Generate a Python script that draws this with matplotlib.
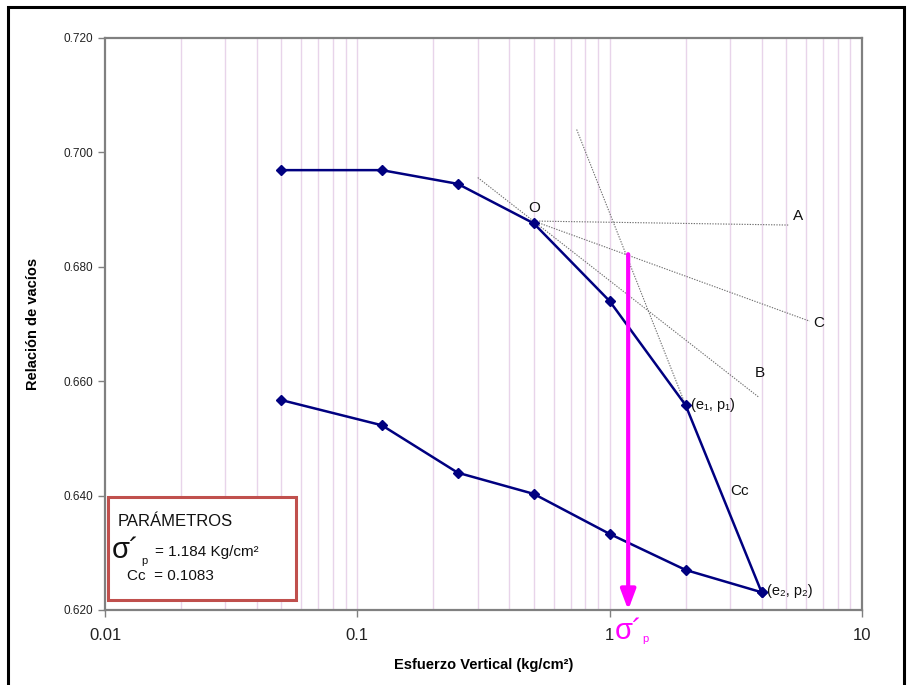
import matplotlib
matplotlib.use("Agg")
import matplotlib.pyplot as plt
from matplotlib.patches import Rectangle
from matplotlib.ticker import FixedLocator, NullLocator, NullFormatter

plt.rcParams['font.family'] = ['Liberation Sans', 'DejaVu Sans']

# Consolidation test: loading and unloading branches
carga_esfuerzo = [0.05, 0.125, 0.25, 0.5, 1.0, 2.0, 4.0]
carga_e = [0.6969, 0.6969, 0.6945, 0.6876, 0.6740, 0.6558, 0.6231]
descarga_esfuerzo = [4.0, 2.0, 1.0, 0.5, 0.25, 0.125, 0.05]
descarga_e = [0.6231, 0.6270, 0.6333, 0.6403, 0.6440, 0.6523, 0.6567]

# Casagrande construction lines (x pairs, y pairs)
linea_OA = ([0.5, 5.1], [0.6880, 0.6873])
linea_OC = ([0.5, 6.2], [0.6880, 0.6705])
linea_OB = ([0.30, 3.9], [0.6956, 0.6572])
linea_tangente = ([0.74, 2.0], [0.7040, 0.6558])

sigma_p = 1.184
e_sigma_p = 0.6822
Cc = 0.1083

y_ticks = [0.620, 0.640, 0.660, 0.680, 0.700, 0.720]
x_ticks = [0.01, 0.1, 1, 10]
x_tick_labels = ['0.01', '0.1', '1', '10']

fig = plt.figure(figsize=(9.07, 6.85), dpi=100)
ax = fig.add_axes([105/907, 75/685, 757/907, 572/685])

ax.set_xscale('log')
ax.set_xlim(0.01, 10)
ax.set_ylim(0.620, 0.720)

# vertical grid at every major and minor decade position
grid_x = [m * 10.0**d for d in (-2, -1, 0) for m in range(1, 10)][1:]
for gx in grid_x:
    ax.axvline(gx, color='#e8d4ea', lw=1.0, zorder=0)

for xs, ys in (linea_OA, linea_OC, linea_OB, linea_tangente):
    ax.plot(xs, ys, color='#707070', lw=0.8, ls=(0, (1.2, 1.2)), zorder=2)

ax.plot(carga_esfuerzo, carga_e, color='#000080', lw=1.8, marker='D',
        markersize=5.5, zorder=4)
ax.plot(descarga_esfuerzo, descarga_e, color='#000080', lw=1.8, marker='D',
        markersize=5.5, zorder=4)

# preconsolidation pressure arrow
ax.annotate('', xy=(sigma_p, 0.620), xytext=(sigma_p, e_sigma_p),
            arrowprops=dict(arrowstyle='-|>,head_width=0.45,head_length=1.2',
                            color='#ff00ff', lw=3, shrinkA=0, shrinkB=0),
            zorder=5)

# construction-point labels
lbl = dict(fontsize=11, color='#111111', zorder=6)
ax.text(linea_OA[0][0], linea_OA[1][0] + 0.0011, 'O', ha='center', va='bottom', **lbl)
ax.text(linea_OA[0][1] * 1.04, linea_OA[1][1] + 0.0003, 'A', ha='left', va='bottom', **lbl)
ax.text(linea_OC[0][1] * 1.03, linea_OC[1][1] - 0.0003, 'C', ha='left', va='center', **lbl)
ax.text(3.75, 0.6615, 'B', ha='left', va='center', **lbl)
ax.text(3.0, 0.6408, 'Cc', ha='left', va='center', **lbl)
ax.text(carga_esfuerzo[5] * 1.05, carga_e[5], '(e\u2081, p\u2081)', ha='left',
        va='center', fontsize=10.5, color='#111111', zorder=6)
ax.text(carga_esfuerzo[6] * 1.05, carga_e[6] + 0.0003, '(e\u2082, p\u2082)', ha='left',
        va='center', fontsize=10.5, color='#111111', zorder=6)

# axes styling
for s in ax.spines.values():
    s.set_color('#808080')
    s.set_linewidth(1.6)
ax.set_yticks(y_ticks)
ax.set_yticklabels([f'{v:.3f}' for v in y_ticks], fontsize=8.5, color='#222222')
ax.xaxis.set_major_locator(FixedLocator(x_ticks))
ax.xaxis.set_minor_locator(NullLocator())
ax.xaxis.set_minor_formatter(NullFormatter())
ax.set_xticklabels(x_tick_labels, fontsize=12, color='#222222')
ax.tick_params(axis='both', direction='out', length=5, width=1, color='#808080')
ax.tick_params(axis='x', pad=8)

ax.set_ylabel('Relación de vacíos', fontsize=10.5, fontweight='bold', labelpad=17)
ax.set_xlabel('Esfuerzo Vertical (kg/cm²)', fontsize=10.5, fontweight='bold', labelpad=11)

# sigma'p label below the axis
ax.text(sigma_p, -0.036, 'σ´', transform=ax.get_xaxis_transform(), ha='center',
        va='center', fontsize=21, color='#ff00ff', clip_on=False)
ax.text(sigma_p * 1.14, -0.050, 'p', transform=ax.get_xaxis_transform(), ha='left',
        va='center', fontsize=8, color='#ff00ff', clip_on=False)

# parameter box
box = Rectangle((108/907, 85/685), 188/907, 103/685, transform=fig.transFigure,
                facecolor='white', edgecolor='#c0504d', lw=2.2, zorder=10)
fig.patches.append(box)
fig.text(118/907, 163/685, 'PARÁMETROS', fontsize=12, color='#111111', va='center', zorder=11)
fig.text(112/907, 135/685, 'σ´', fontsize=21, color='#111111', va='center', zorder=11)
fig.text(141/907, 124/685, 'p', fontsize=8, color='#111111', va='center', zorder=11)
fig.text(155/907, 133/685, f'= {sigma_p:.3f} Kg/cm²', fontsize=11, color='#111111',
         va='center', zorder=11)
fig.text(127/907, 109/685, f'Cc  = {Cc:.4f}', fontsize=11, color='#111111',
         va='center', zorder=11)

# outer frame
fig.patches.append(Rectangle((8/907, -0.05), 896/907, 1 - 7/685 + 0.05,
                             transform=fig.transFigure, fill=False,
                             edgecolor='black', lw=2.2, zorder=12))

fig.savefig('out.png', dpi=100)
